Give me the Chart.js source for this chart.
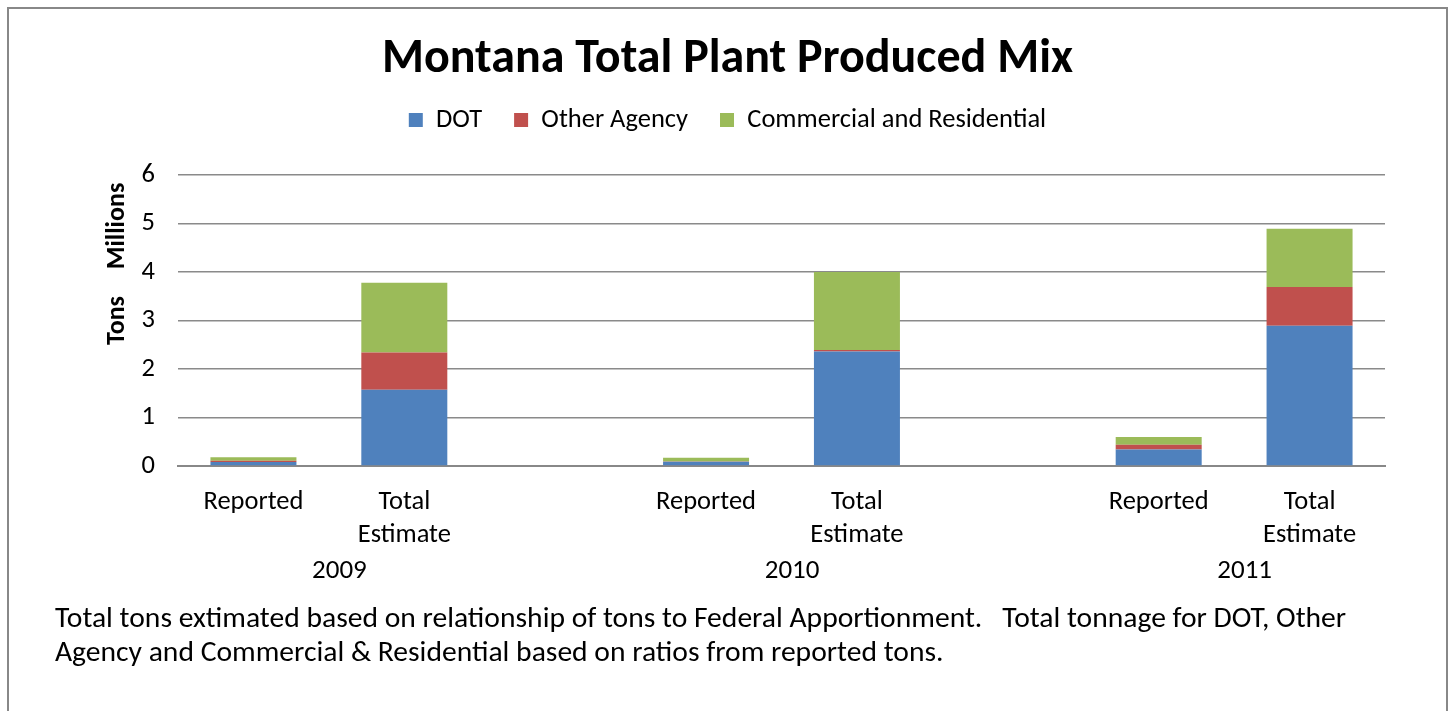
<!DOCTYPE html>
<html>
<head>
<meta charset="utf-8">
<script src="https://cdn.jsdelivr.net/npm/chart.js@4.4.1/dist/chart.umd.min.js"></script>
<style>
  html, body { margin: 0; padding: 0; background: #fff; }
  body { width: 1452px; height: 711px; position: relative; overflow: hidden; font-family: Carlito, Lato, sans-serif; }
  #frame { position: absolute; left: 7px; top: 7px; width: 1441px; height: 720px; border: 2px solid #888; box-sizing: border-box; }
  #chart { position: absolute; left: 0; top: 0; }
  #note { position: absolute; left: 55px; top: 600px; font-size: 29.6px; line-height: 34px; color: #000; white-space: nowrap; }
</style>
</head>
<body>
<div id="frame"></div>
<canvas id="chart" width="1452" height="600"></canvas>
<div id="note">Total tons extimated based on relationship of tons to Federal Apportionment. &nbsp; Total tonnage for DOT, Other<br>Agency and Commercial &amp; Residential based on ratios from reported tons.</div>
<script>
// categorias (con huecos entre años)
const categories = [['Reported'], ['Total', 'Estimate'], '', ['Reported'], ['Total', 'Estimate'], '', ['Reported'], ['Total', 'Estimate']];
const years = ['2009', '2010', '2011'];
const yearStart = [0, 3, 6];

// toneladas en millones
const dotTons = [0.08, 1.57, null, 0.09, 2.36, null, 0.34, 2.89];
const otherTons = [0.03, 0.77, null, 0.005, 0.03, null, 0.10, 0.80];
const commTons = [0.07, 1.44, null, 0.075, 1.61, null, 0.16, 1.20];

const yTicks = [0, 1, 2, 3, 4, 5, 6];

const FONT = 'Carlito, Lato, sans-serif';

// etiquetas de año y "Millions"
const extraLabels = {
    id: 'extraLabels',
    afterDraw(chart) {
        const ctx = chart.ctx;
        const x = chart.scales.x;
        ctx.save();
        ctx.fillStyle = '#000';
        ctx.font = '27px ' + FONT;
        ctx.textAlign = 'center';
        ctx.textBaseline = 'middle';
        years.forEach((yr, i) => {
            const px = x.getPixelForValue(yearStart[i] + 0.57);
            ctx.fillText(yr, px, 571);
        });
        ctx.translate(117, 226);
        ctx.rotate(-Math.PI / 2);
        ctx.font = 'bold 26px ' + FONT;
        ctx.fillText('Millions', 0, 0);
        ctx.restore();
    }
};

new Chart(document.getElementById('chart'), {
    type: 'bar',
    data: {
        labels: categories,
        datasets: [
            { label: 'DOT', data: dotTons, backgroundColor: '#4F81BD' },
            { label: 'Other Agency', data: otherTons, backgroundColor: '#C0504D' },
            { label: 'Commercial and Residential', data: commTons, backgroundColor: '#9BBB59' }
        ]
    },
    options: {
        responsive: false,
        animation: false,
        devicePixelRatio: 1,
        layout: { padding: { left: 70, right: 67, top: 0, bottom: 0 } },
        datasets: { bar: { categoryPercentage: 1, barPercentage: 0.57 } },
        plugins: {
            title: {
                display: true,
                text: 'Montana Total Plant Produced Mix',
                color: '#000',
                font: { family: FONT, size: 48, weight: 'bold', lineHeight: 0.6 },
                padding: { top: 45.6, bottom: 0.35 }
            },
            legend: {
                display: true,
                labels: {
                    color: '#000',
                    font: { family: FONT, size: 26.5 },
                    boxWidth: 14,
                    boxHeight: 14,
                    padding: 32
                }
            },
            // separador entre leyenda y área del gráfico
            subtitle: {
                display: true,
                text: '',
                weight: 500,
                font: { size: 10, lineHeight: 1 },
                padding: { top: 0, bottom: 21.75 }
            },
            tooltip: { enabled: false }
        },
        scales: {
            x: {
                stacked: true,
                grid: { display: false },
                border: { display: true, color: '#888', width: 2 },
                ticks: {
                    color: '#000',
                    font: { family: FONT, size: 26.5, lineHeight: 1.245 },
                    padding: 12,
                    maxRotation: 0,
                    autoSkip: false
                },
                afterFit(s) { s.height = 134; }
            },
            y: {
                stacked: true,
                min: 0,
                max: 6,
                afterBuildTicks(s) { s.ticks = yTicks.map(v => ({ value: v })); },
                grid: { color: '#8a8a8a', lineWidth: 1.5, drawTicks: false },
                border: { display: false },
                ticks: {
                    color: '#000',
                    font: { family: FONT, size: 26.5 },
                    padding: 23
                },
                title: {
                    display: true,
                    text: 'Tons',
                    color: '#000',
                    font: { family: FONT, size: 26, weight: 'bold', lineHeight: 1.2 },
                    padding: { top: 31.5, bottom: 0 }
                },
                afterFit(s) { s.width = 108; }
            }
        }
    },
    plugins: [extraLabels]
});
</script>
</body>
</html>
